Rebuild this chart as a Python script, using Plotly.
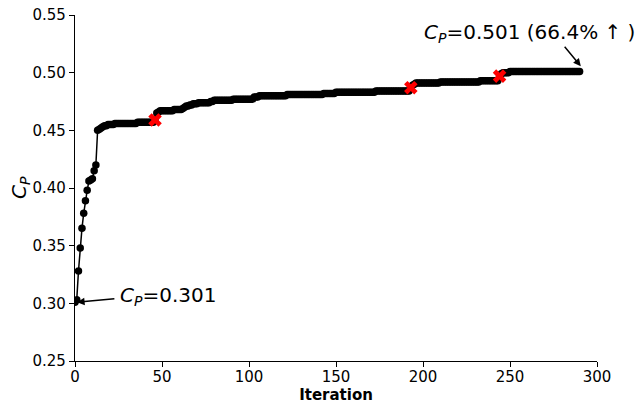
import plotly.graph_objects as go

# Best-so-far power coefficient per iteration
cp_values = [
    0.301, 0.303, 0.328, 0.348, 0.365, 0.378, 0.389, 0.398, 0.406, 0.407,
    0.408, 0.415, 0.420, 0.450, 0.451, 0.452, 0.453, 0.454, 0.454, 0.455,
    0.455, 0.455, 0.455, 0.456, 0.456, 0.456, 0.456, 0.456, 0.456, 0.456,
    0.456, 0.456, 0.456, 0.456, 0.456, 0.456, 0.457, 0.457, 0.457, 0.457,
    0.457, 0.457, 0.457, 0.457, 0.457, 0.457, 0.459, 0.465, 0.466, 0.467,
    0.467, 0.467, 0.467, 0.467, 0.467, 0.467, 0.467, 0.468, 0.468, 0.468,
    0.468, 0.468, 0.469, 0.470, 0.471, 0.471, 0.472, 0.472, 0.473, 0.473,
    0.473, 0.474, 0.474, 0.474, 0.474, 0.474, 0.474, 0.474, 0.475, 0.475,
    0.476, 0.476, 0.476, 0.476, 0.476, 0.476, 0.476, 0.476, 0.476, 0.476,
    0.476, 0.477, 0.477, 0.477, 0.477, 0.477, 0.477, 0.477, 0.477, 0.477,
    0.477, 0.477, 0.477, 0.479, 0.479, 0.479, 0.480, 0.480, 0.480, 0.480,
    0.480, 0.480, 0.480, 0.480, 0.480, 0.480, 0.480, 0.480, 0.480, 0.480,
    0.480, 0.480, 0.481, 0.481, 0.481, 0.481, 0.481, 0.481, 0.481, 0.481,
    0.481, 0.481, 0.481, 0.481, 0.481, 0.481, 0.481, 0.481, 0.481, 0.481,
    0.481, 0.481, 0.481, 0.482, 0.482, 0.482, 0.482, 0.482, 0.482, 0.482,
    0.483, 0.483, 0.483, 0.483, 0.483, 0.483, 0.483, 0.483, 0.483, 0.483,
    0.483, 0.483, 0.483, 0.483, 0.483, 0.483, 0.483, 0.483, 0.483, 0.483,
    0.483, 0.483, 0.483, 0.484, 0.484, 0.484, 0.484, 0.484, 0.484, 0.484,
    0.484, 0.484, 0.484, 0.484, 0.484, 0.484, 0.484, 0.484, 0.484, 0.484,
    0.484, 0.484, 0.484, 0.487, 0.489, 0.490, 0.491, 0.491, 0.491, 0.491,
    0.491, 0.491, 0.491, 0.491, 0.491, 0.491, 0.491, 0.491, 0.491, 0.491,
    0.492, 0.492, 0.492, 0.492, 0.492, 0.492, 0.492, 0.492, 0.492, 0.492,
    0.492, 0.492, 0.492, 0.492, 0.492, 0.492, 0.492, 0.492, 0.492, 0.492,
    0.492, 0.492, 0.492, 0.493, 0.493, 0.493, 0.493, 0.493, 0.493, 0.493,
    0.493, 0.493, 0.493, 0.493, 0.497, 0.499, 0.500, 0.500, 0.500, 0.500,
    0.501, 0.501, 0.501, 0.501, 0.501, 0.501, 0.501, 0.501, 0.501, 0.501,
    0.501, 0.501, 0.501, 0.501, 0.501, 0.501, 0.501, 0.501, 0.501, 0.501,
    0.501, 0.501, 0.501, 0.501, 0.501, 0.501, 0.501, 0.501, 0.501, 0.501,
    0.501, 0.501, 0.501, 0.501, 0.501, 0.501, 0.501, 0.501, 0.501, 0.501,
    0.501,
]
iterations = list(range(len(cp_values)))

# Highlighted iterations (red crosses)
marked_iterations = [46, 193, 244]
marked_values = [cp_values[i] for i in marked_iterations]

x_ticks = [0, 50, 100, 150, 200, 250, 300]
y_ticks = [0.25, 0.30, 0.35, 0.40, 0.45, 0.50, 0.55]

FONT = "DejaVu Sans"

fig = go.Figure()
fig.add_trace(go.Scatter(
    x=iterations, y=cp_values, mode="lines+markers",
    line=dict(color="black", width=1.5),
    marker=dict(color="black", size=7.5),
    showlegend=False, hoverinfo="skip",
))
fig.add_trace(go.Scatter(
    x=marked_iterations, y=marked_values, mode="markers",
    marker=dict(color="red", size=12, symbol="x", line=dict(width=0)),
    showlegend=False, hoverinfo="skip",
))

annotations = [
    dict(x=24.5, y=0.3065, xref="x", yref="y", xanchor="left", yanchor="middle",
         text="<i>C</i><sub><i>P</i></sub>=0.301", showarrow=False,
         font=dict(family=FONT, size=20, color="black")),
    dict(x=1.2, y=0.301, xref="x", yref="y", ax=23.5, ay=0.3042,
         axref="x", ayref="y", text="", showarrow=True,
         arrowhead=2, arrowsize=1, arrowwidth=1.5, arrowcolor="black"),
    dict(x=199.5, y=0.5345, xref="x", yref="y", xanchor="left", yanchor="middle",
         text="<i>C</i><sub><i>P</i></sub>=0.501 (66.4% ↑ )", showarrow=False,
         font=dict(family=FONT, size=20, color="black")),
    dict(x=290.7, y=0.5056, xref="x", yref="y", ax=280.7, ay=0.5238,
         axref="x", ayref="y", text="", showarrow=True,
         arrowhead=2, arrowsize=1, arrowwidth=1.5, arrowcolor="black"),
    # y-axis title
    dict(x=0, y=0.5, xref="paper", yref="paper", xshift=-55, xanchor="center",
         yanchor="middle", textangle=-90, showarrow=False,
         text="<i>C</i><sub><i>P</i></sub>",
         font=dict(family=FONT, size=20, color="black")),
]

fig.update_layout(
    width=639, height=408,
    margin=dict(l=75, r=42, t=15, b=47, autoexpand=False),
    paper_bgcolor="white", plot_bgcolor="white",
    font=dict(family=FONT, size=15, color="black"),
    annotations=annotations,
    xaxis=dict(
        range=[0, 300], tickvals=x_ticks, showgrid=False, zeroline=False,
        showline=True, linecolor="black", linewidth=1.2, mirror=False,
        ticks="outside", ticklen=5, tickwidth=1.2, tickcolor="black",
        tickfont=dict(family=FONT, size=15), automargin=False,
        ticklabelstandoff=-3,
        title=dict(text="<b>Iteration</b>", font=dict(family=FONT, size=15), standoff=0),
    ),
    yaxis=dict(
        range=[0.25, 0.55], tickvals=y_ticks, tickformat=".2f",
        showgrid=False, zeroline=False, automargin=False,
        showline=True, linecolor="black", linewidth=1.2, mirror=False,
        ticks="outside", ticklen=5, tickwidth=1.2, tickcolor="black",
        tickfont=dict(family=FONT, size=15),
    ),
)

fig.write_html(
    "out.html",
    config={"displayModeBar": False},
    post_script="document.body.style.margin='0px';document.body.style.padding='0px';",
)
